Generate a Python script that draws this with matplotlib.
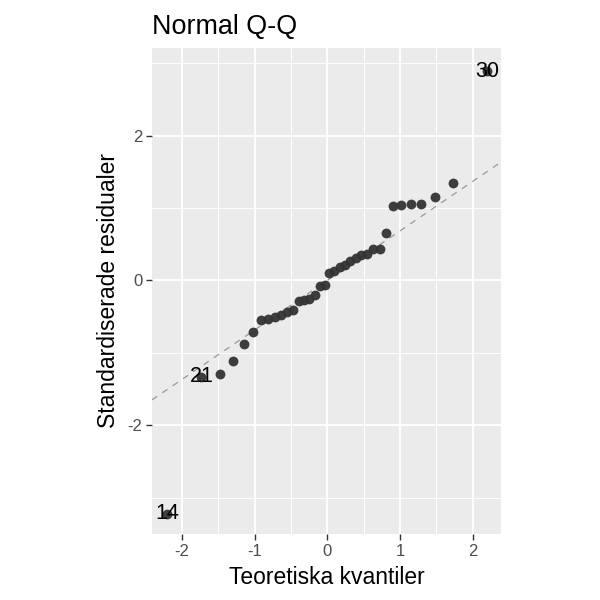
import matplotlib
matplotlib.use('Agg')
from matplotlib import pyplot as plt
from matplotlib.ticker import MultipleLocator

plt.rcParams['font.family'] = ['Liberation Sans', 'DejaVu Sans']

# teoretiska kvantiler och standardiserade residualer
theo = [-2.20, -1.73, -1.48, -1.29, -1.15, -1.02, -0.91, -0.81, -0.72, -0.63,
        -0.55, -0.47, -0.39, -0.32, -0.25, -0.17, -0.10, -0.03, 0.03, 0.10,
        0.17, 0.25, 0.32, 0.39, 0.47, 0.55, 0.63, 0.72, 0.81, 0.91,
        1.02, 1.15, 1.29, 1.48, 1.73, 2.20]
resid = [-3.22, -1.33, -1.29, -1.11, -0.87, -0.71, -0.55, -0.53, -0.50, -0.47,
         -0.43, -0.41, -0.28, -0.27, -0.25, -0.20, -0.08, -0.06, 0.10, 0.13,
         0.18, 0.22, 0.27, 0.31, 0.35, 0.37, 0.44, 0.44, 0.66, 1.03,
         1.04, 1.06, 1.06, 1.15, 1.34, 2.89]

# utmärkta observationer (index i listorna ovan)
label_idx = [0, 1, 35]
label_txt = ['14', '21', '30']

# referenslinje
qq_intercept = 0.0
qq_slope = 0.684

x_ticks = [-2, -1, 0, 1, 2]
y_ticks = [-2, 0, 2]

fig = plt.figure(figsize=(6, 6), dpi=100)
ax = fig.add_axes([0.2533, 0.11, 0.5817, 0.81])
ax.set_facecolor('#EBEBEB')

ax.set_xlim(-2.41, 2.39)
ax.set_ylim(-3.50, 3.21)

ax.xaxis.set_minor_locator(MultipleLocator(0.5))
ax.yaxis.set_minor_locator(MultipleLocator(1))
ax.grid(which='major', color='white', lw=1.4)
ax.grid(which='minor', color='white', lw=0.7)
ax.set_axisbelow(True)

for s in ax.spines.values():
    s.set_visible(False)

ax.axline((0, qq_intercept), slope=qq_slope, color='#999999', lw=0.9,
          ls=(0, (5, 5)), zorder=2)
ax.scatter(theo, resid, s=50, color='#333333', alpha=0.95, lw=0, zorder=3)

for i, t in zip(label_idx, label_txt):
    ax.text(theo[i], resid[i], t, ha='center', va='center', fontsize=15.5,
            color='black', zorder=4)

ax.set_xticks(x_ticks)
ax.set_yticks(y_ticks)
ax.set_xticklabels([str(v) for v in x_ticks])
ax.set_yticklabels([str(v) for v in y_ticks])
ax.tick_params(which='major', length=4, width=1, color='#333333',
               labelcolor='#4D4D4D', labelsize=12, pad=3)
ax.tick_params(which='minor', length=0)

ax.set_xlabel('Teoretiska kvantiler', fontsize=16.5, labelpad=5)
ax.set_ylabel('Standardiserade residualer', fontsize=16.5, labelpad=5)
ax.set_title('Normal Q-Q', fontsize=19.4, loc='left', pad=10)

fig.savefig('out.png', dpi=100, facecolor='white')
